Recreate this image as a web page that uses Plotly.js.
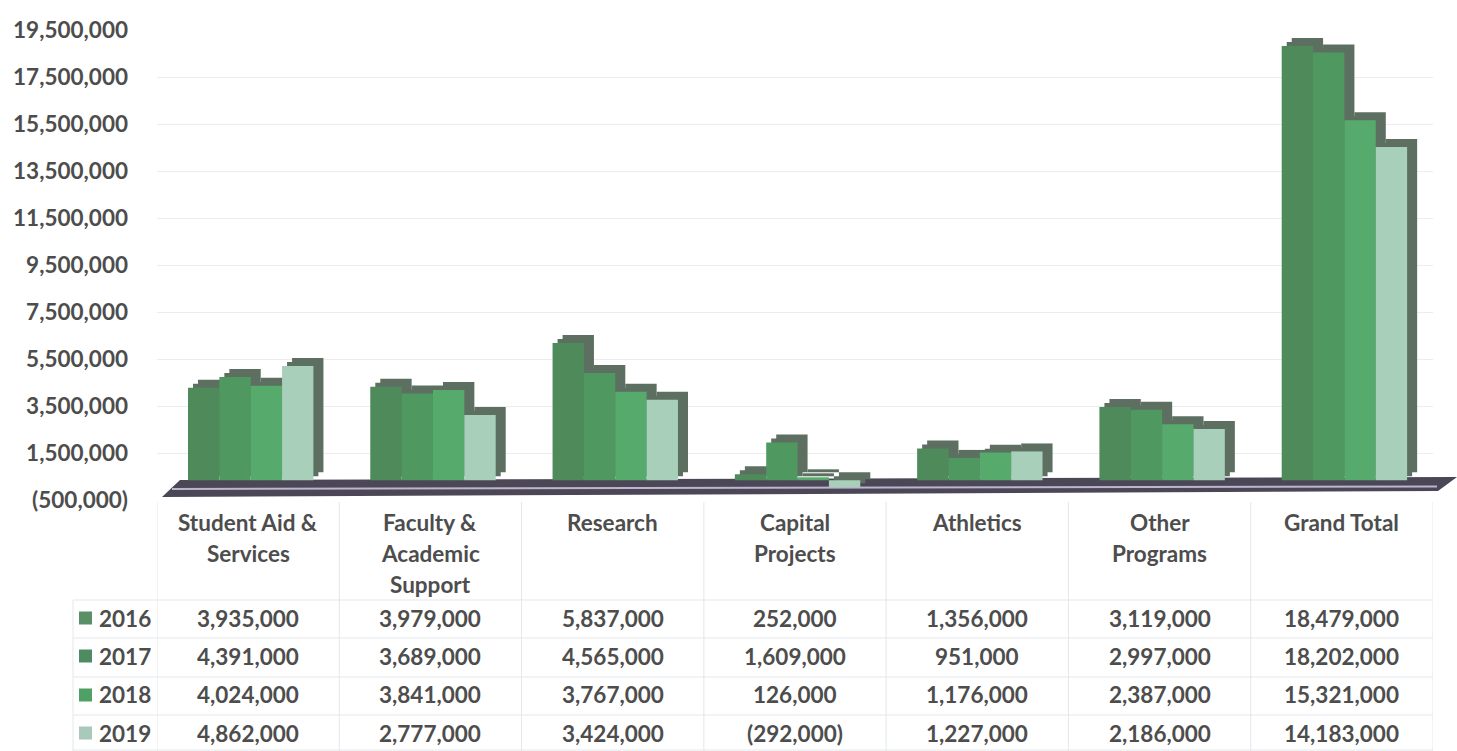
<!DOCTYPE html>
<html>
<head>
<meta charset="utf-8">
<script src="https://cdn.plot.ly/plotly-3.0.1.min.js"></script>
<style>html,body{margin:0;padding:0;background:#fff;}#chart{width:1457px;height:751px;}</style>
</head>
<body>
<div id="chart"></div>
<script>
const categories = ['Student Aid & Services','Faculty & Academic Support','Research','Capital Projects','Athletics','Other Programs','Grand Total'];
const headerLines = [['Student Aid &','Services'],['Faculty &','Academic','Support'],['Research'],['Capital','Projects'],['Athletics'],['Other','Programs'],['Grand Total']];
const years = ['2016','2017','2018','2019'];
const v2016 = [3935000, 3979000, 5837000, 252000, 1356000, 3119000, 18479000];
const v2017 = [4391000, 3689000, 4565000, 1609000, 951000, 2997000, 18202000];
const v2018 = [4024000, 3841000, 3767000, 126000, 1176000, 2387000, 15321000];
const v2019 = [4862000, 2777000, 3424000, -292000, 1227000, 2186000, 14183000];
const yTickVals = [-500000, 1500000, 3500000, 5500000, 7500000, 9500000, 11500000, 13500000, 15500000, 17500000, 19500000];
const yTickText = ['(500,000)','1,500,000','3,500,000','5,500,000','7,500,000','9,500,000','11,500,000','13,500,000','15,500,000','17,500,000','19,500,000'];

const series = [v2016, v2017, v2018, v2019];
const colors = ['#4f8a5b', '#4f9961', '#55aa6c', '#a8cfb9'];
const keyColors = ['#5a8f68', '#4f8a60', '#4ea065', '#a9c9ba'];
const shadowColor = '#5d6f61';
const txtColor = '#4d4d4d';
const FONT = 'Lato, "Open Sans", sans-serif';

// pixel helpers for decoration / table layout
const L = 157, R = 1433, T = 30, B = 500;
const px = p => (p - L) / (R - L);
const py = p => (B - p) / (B - T);

const barW = 0.172, start = -0.33;
const depthX = 0.055, depthY = 340000;

const traces = [];
// shadows (depth faces), far layer then near layer
[1, 0.5].forEach(f => {
  series.forEach((vals, i) => {
    traces.push({
      type: 'bar', x: categories, y: vals, base: depthY * f,
      width: barW, offset: start + i * barW + depthX * f,
      marker: {color: shadowColor, line: {width: 0}},
      hoverinfo: 'skip', showlegend: false
    });
  });
});
series.forEach((vals, i) => {
  traces.push({
    type: 'bar', name: years[i], x: categories, y: vals,
    width: barW, offset: start + i * barW,
    marker: {color: colors[i], line: {width: 0}},
    showlegend: false
  });
});

const fmt = v => v < 0 ? '(' + Math.abs(v).toLocaleString('en-US') + ')' : v.toLocaleString('en-US');

const annotations = [];
const baseFont = {family: FONT, size: 22.5, color: txtColor, weight: 700};
headerLines.forEach((lines, c) => {
  lines.forEach((ln, k) => {
    annotations.push({
      xref: 'x', yref: 'paper', x: categories[c], y: py(522 + 31 * k),
      text: ln, showarrow: false, xanchor: 'center', yanchor: 'middle', font: baseFont
    });
  });
});
const rowY = [618, 656, 695, 733];
const shapes = [];
series.forEach((vals, r) => {
  annotations.push({
    xref: 'paper', yref: 'paper', x: px(153), y: py(rowY[r]),
    text: years[r],
    showarrow: false, xanchor: 'right', yanchor: 'middle', font: baseFont
  });
  shapes.push({type: 'rect', xref: 'paper', yref: 'paper',
    x0: px(79), x1: px(92), y0: py(rowY[r] - 6.5), y1: py(rowY[r] + 6.5),
    fillcolor: keyColors[r], line: {width: 0}});
  vals.forEach((v, c) => {
    annotations.push({
      xref: 'x', yref: 'paper', x: categories[c], y: py(rowY[r]),
      text: fmt(v), showarrow: false, xanchor: 'center', yanchor: 'middle', font: baseFont
    });
  });
});

// floor slab
shapes.push({
  type: 'path', xref: 'paper', yref: 'paper', layer: 'below',
  path: 'M ' + px(180) + ' ' + py(480) + ' L ' + px(1457) + ' ' + py(477) +
        ' L ' + px(1438) + ' ' + py(491) + ' L ' + px(162) + ' ' + py(497) + ' Z',
  fillcolor: '#4c4757', line: {width: 0}
});
shapes.push({
  type: 'line', xref: 'paper', yref: 'paper', layer: 'below',
  x0: px(172), y0: py(489), x1: px(1437), y1: py(486.5),
  line: {color: '#bdb5cc', width: 2}
});
// table grid
const gridC = '#e3e7eb';
for (let k = 0; k <= categories.length; k++) {
  shapes.push({type: 'line', xref: 'x', yref: 'paper', x0: k - 0.5, x1: k - 0.5,
    y0: py(502), y1: py(751), line: {color: gridC, width: 1}});
}
shapes.push({type: 'line', xref: 'paper', yref: 'paper', x0: px(73), x1: px(73),
  y0: py(600), y1: py(751), line: {color: gridC, width: 1}});
[600, 638, 677, 715, 750].forEach(yy => {
  shapes.push({type: 'line', xref: 'paper', yref: 'paper', x0: px(73), x1: px(R),
    y0: py(yy), y1: py(yy), line: {color: gridC, width: 1}});
});

const layout = {
  width: 1457, height: 751,
  margin: {l: L, r: 1457 - R, t: T, b: 751 - B},
  paper_bgcolor: '#ffffff', plot_bgcolor: 'rgba(0,0,0,0)',
  barmode: 'overlay', showlegend: false,
  xaxis: {type: 'category', range: [-0.5, 6.5], showticklabels: false, showgrid: false,
    zeroline: false, showline: false, ticks: '', fixedrange: true},
  // bars drawn a little raised (3D floor depth): ticks placed accordingly
  yaxis: {range: [-500000 - depthY, 19500000 - depthY],
    tickmode: 'array', tickvals: yTickVals.map(v => v - depthY), ticktext: yTickText,
    tickfont: {family: FONT, size: 22.5, color: txtColor, weight: 700},
    showgrid: true, gridcolor: '#ededed', gridwidth: 1, zeroline: false, showline: false,
    ticks: '', ticklabelstandoff: 28, fixedrange: true},
  annotations: annotations,
  shapes: shapes
};

Plotly.newPlot('chart', traces, layout, {displayModeBar: false, staticPlot: true});
</script>
</body>
</html>
